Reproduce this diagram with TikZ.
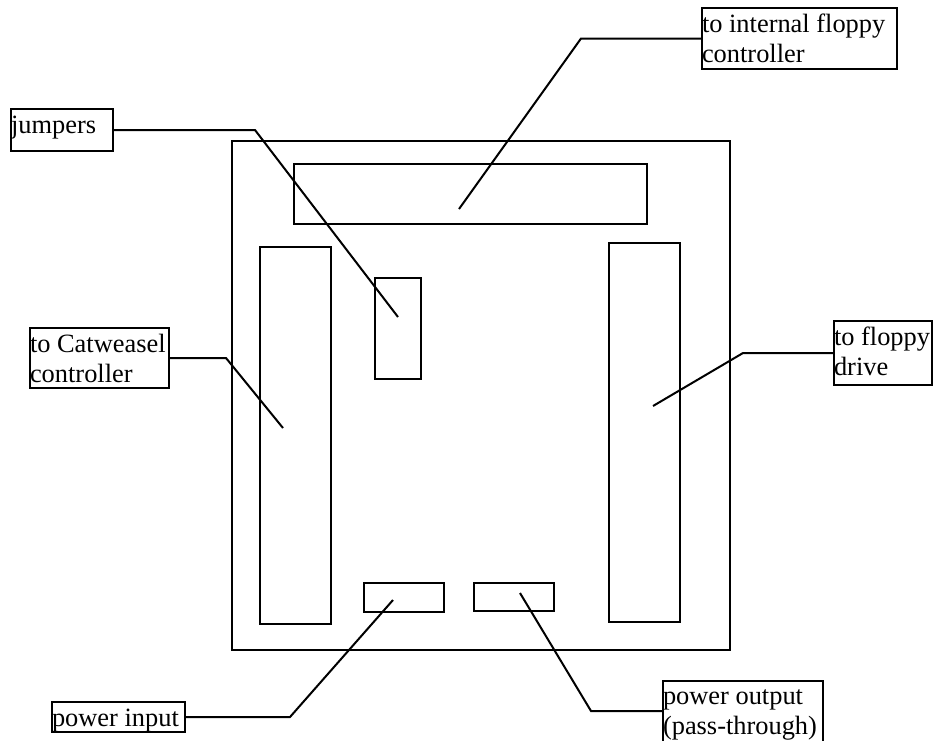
\documentclass[tikz,border=0pt]{standalone}
\usepackage{fontspec}
\setmainfont{Liberation Serif}
\begin{document}
\begin{tikzpicture}[x=1pt,y=-1pt,
  ln/.style={line width=2pt, line join=miter},
  comp/.style={draw, ln, rectangle, inner sep=0pt, outer sep=0pt},
  lbl/.style={draw, ln, rectangle, inner sep=0pt, outer sep=0pt, anchor=north west},
  txt/.style={inner sep=0pt, outer sep=0pt, anchor=north west, align=left,
    font=\fontsize{26.4}{30}\selectfont}]
\useasboundingbox (0,0) rectangle (933,740);
\begin{scope}
\clip (0,0) rectangle (933,740);
% board and components
\node[comp, minimum width=498, minimum height=509] (board) at (481,395.5) {};
\node[comp, minimum width=353, minimum height=60] (topc) at (470.5,194) {};
\node[comp, minimum width=71, minimum height=377] (leftc) at (295.5,435.5) {};
\node[comp, minimum width=46, minimum height=101] (jmp) at (398,328.5) {};
\node[comp, minimum width=71, minimum height=379] (rightc) at (644.5,432.5) {};
\node[comp, minimum width=80, minimum height=29] (pin) at (404,597.5) {};
\node[comp, minimum width=80, minimum height=28] (pout) at (514,597) {};
% labels
\node[lbl, minimum width=195, minimum height=61] (lint) at (702,8) {};
\node[txt] at (lint.north west) {\rule{0pt}{24.5pt}to internal floppy\\controller};
\node[lbl, minimum width=102, minimum height=42] (ljmp) at (11,109) {};
\node[txt] at (ljmp.north west) {\rule{0pt}{24.5pt}jumpers};
\node[lbl, minimum width=139, minimum height=60] (lcat) at (30,328) {};
\node[txt] at (lcat.north west) {\rule{0pt}{24.5pt}to Catweasel\\controller};
\node[lbl, minimum width=98, minimum height=64] (lfd) at (834,321) {};
\node[txt] at (lfd.north west) {\rule{0pt}{24.5pt}to floppy\\drive};
\node[lbl, minimum width=133, minimum height=30] (lpin) at (52,702) {};
\node[txt] at (lpin.north west) {\rule{0pt}{24pt}power input};
\node[lbl, minimum width=160, minimum height=64] (lpout) at (663,681) {};
\node[txt] at (lpout.north west) {\rule{0pt}{23.5pt}power output\\(pass-through)};
% leader end points
\coordinate (etop) at (459,209);
\coordinate (ejmp) at (398,317);
\coordinate (ecat) at (283,428);
\coordinate (efd) at (653,406);
\coordinate (epin) at (393,600);
\coordinate (epout) at (520,593);
\coordinate (bint) at (581,38.5);
\coordinate (bjmp) at (255,130);
\coordinate (bcat) at (226,358);
\coordinate (bfd) at (743,353);
\coordinate (bpin) at (290,717);
\coordinate (bpout) at (591,711);
% leaders
\draw[ln] (lint.west) -- (bint) -- (etop);
\draw[ln] (ljmp.east) -- (bjmp) -- (ejmp);
\draw[ln] (lcat.east) -- (bcat) -- (ecat);
\draw[ln] (lfd.west) -- (bfd) -- (efd);
\draw[ln] (lpin.east) -- (bpin) -- (epin);
\draw[ln] (lpout.west |- bpout) -- (bpout) -- (epout);
\end{scope}
\end{tikzpicture}
\end{document}
